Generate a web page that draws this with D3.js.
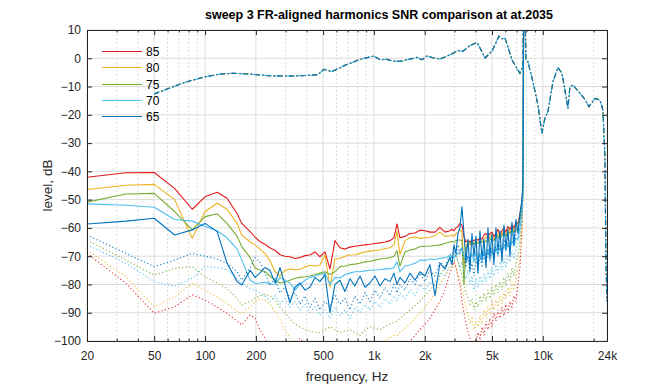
<!DOCTYPE html>
<html><head><meta charset="utf-8">
<script src="https://cdn.jsdelivr.net/npm/d3@7"></script>
<style>body{margin:0;background:#fff}svg{display:block;font-family:"Liberation Sans",Arial,Helvetica,sans-serif}</style>
</head><body><svg id="c" width="672" height="384"></svg>
<script>
const levels = ["85","80","75","70","65"];
const colors = ["#e31a1c","#edb120","#77ac30","#4dbeee","#0072bd"];
const xTicks = [20,50,100,200,500,1000,2000,5000,10000,24000];
const xTickLabels = ["20","50","100","200","500","1k","2k","5k","10k","24k"];
const yTicks = [10,0,-10,-20,-30,-40,-50,-60,-70,-80,-90,-100];
const titleText = "sweep 3 FR-aligned harmonics SNR comparison at at.2035";

// shared frequency grid (Hz) for harmonic (solid) and dotted curves
const freq = [20,34,50,66,84,100,118,135,155,165,
  185,198,211,226,242,260,278,297,318,341,
  365,391,418,448,479,513,549,588,629,674,
  721,772,827,885,947,1014,1086,1162,1245,1314,
  1369,1426,1527,1635,1750,1874,2006,2147,2299,2460,
  2634,2820,
  2898,2978,3060,3145,3232,3322,3414,3508,3606,3705,
  3807,3912,4021,4130,4246,4364,4484,4608,4735,4864,
  4998,5137,5279,5425,5577,5730,5888,6051,6218,6390,
  6566,6749,6934,7126,7323,7526,
  7628,7733];

// solid curves (harmonics), dB
const h85 = [-42.1,-40.5,-40.4,-46,-53.4,-49,-47.4,-49.5,-55,-58.4,
  -61.3,-63.3,-64.8,-65.8,-67,-68,-69.5,-70,-70.2,-70.8,
  -70.5,-69.8,-69.6,-68.5,-70.2,-68.5,-74.5,-64.5,-67,-67.5,
  -66.8,-66.5,-66.2,-66,-65.8,-65.5,-65.3,-65,-64.5,-63.5,
  -58.6,-63.5,-63,-62,-61.8,-60.8,-61,-61.5,-61.5,-59.8,
  -61.5,-61,
  -60.5,-61,-60,-59.5,-58.4,-59,-63,-65,-64.5,-65,
  -64.2,-64.5,-64,-64.3,-63.5,-64,-62.5,-62,-63,-62,
  -61.5,-63,-62,-60.5,-62.5,-61,-60,-61.5,-59.5,-60.5,
  -59,-60,-58,-58.5,-55,-51,
  -45,40];
const h80 = [-46.4,-44.9,-44.6,-49.9,-63.7,-54.2,-51.3,-53.4,-58.5,-62.5,
  -65,-66,-67.5,-69,-71.5,-75.5,-77,-75,-74.5,-74.8,
  -74.6,-73.8,-73.2,-73.5,-73.1,-69.5,-81,-71,-70.8,-70,
  -69.6,-69.5,-69,-68.5,-68.2,-68,-67.8,-67.3,-67,-66,
  -61.3,-69.5,-64.5,-63.5,-63.2,-63.7,-63.5,-63.3,-62.8,-61.5,
  -63,-62.8,
  -62.5,-63,-62,-61.5,-60.5,-61.5,-74,-66,-65.5,-66,
  -65,-65.5,-64.8,-65.2,-64.5,-65,-64,-63.2,-64,-63.2,
  -62.5,-64,-63,-62,-63.5,-62,-61.5,-62.5,-60.5,-61.5,
  -60,-61,-59.5,-59,-56,-52,
  -46,40];
const h75 = [-50.9,-48,-47.8,-54.2,-60.7,-56,-55,-58.4,-63,-66.6,
  -70.5,-74.3,-74.8,-75.5,-77,-78.5,-79.5,-79.2,-78.5,-77.8,
  -77.5,-77.3,-77,-76.5,-76,-75.5,-76.5,-75.5,-73.7,-73.5,
  -73,-72.8,-72.5,-72,-71.8,-71.4,-71,-70.8,-70.5,-70,
  -68,-73.5,-68.5,-67.8,-67.5,-66.6,-66.5,-66.4,-66.2,-66,
  -65.5,-65,
  -64.8,-65,-64.5,-64.3,-64.3,-64.5,-80,-67.5,-66,-65,
  -66,-65.5,-65.8,-65.2,-65.5,-64.8,-65.2,-64.5,-65,-64,
  -63.8,-64.5,-63.5,-63,-64,-62.5,-62,-63,-61.5,-62,
  -61,-61.5,-60.5,-60,-57,-53,
  -47,40];
const h70 = [-51.5,-52,-52.7,-57,-57.6,-59.5,-61,-63.5,-67.5,-71.4,
  -78.5,-79.6,-79.5,-79.2,-79.8,-80,-77.5,-78.5,-79.5,-82,
  -80,-78.5,-77.5,-77,-76.5,-76,-80,-77.5,-77.7,-76.5,
  -76,-75.5,-75.5,-75.2,-75,-74.9,-74.8,-74.5,-74.5,-74,
  -72,-75.5,-73.5,-73.1,-72.5,-71.4,-71.5,-71,-71.2,-70.8,
  -70.5,-70,
  -69.8,-70.5,-69.6,-69,-68.5,-67,-70,-72,-70,-71,
  -69,-72,-68.5,-71.5,-69,-72,-68,-70.5,-67.5,-71,
  -68,-70,-67,-69.5,-66.5,-69,-66,-68,-65.5,-67.5,
  -64.5,-66.5,-63.5,-64,-60,-55,
  -48,40];
const h65 = [-58.6,-57.6,-56.6,-62.5,-60.7,-58.4,-61.3,-72.5,-79,-80.2,
  -75,-77.5,-76,-74,-75,-79.5,-74,-80,-86.5,-81,
  -79.5,-82,-81,-77.5,-79,-76.5,-90,-80,-78.5,-82.5,
  -78,-80.5,-77,-81,-79.5,-77,-80.5,-78,-79,-76,
  -80,-77.5,-79.5,-76,-78.5,-75.5,-77,-73,-84,-72.5,
  -74.5,-70.5,
  -73,-66,-69,-62,-60,-52.5,-62,-72,-64,-75,
  -62,-70,-63,-76,-61,-71,-64,-74,-60,-70,
  -62,-73,-60,-68,-61,-72,-59,-67,-60.5,-70,
  -58,-66,-57,-62,-55,-50,
  -44,40];

// dotted curves, dB
const n85 = [-69,-79.6,-90.2,-87.9,-83.7,-85.5,-88,-90.2,-93,-94.3,
  -90.8,-92,-96,-99,-103,-106,-106,-105,-104,-101,
  -99,-101,-103,-105,-106,-105,-104,-105,-105,-106,
  -107,-108,-108,-107,-106,-105,-105,-104,-104,-103,
  -103,-103,-101,-100,-98,-96,-94,-92,-89,-86,
  -82,-76,
  -74,-72,-74,-77,-80,-86,-90,-94,-97,-99,
  -101,-103,-100,-97,-99,-95,-98,-93,-96,-92,
  -95,-90,-93,-89,-92,-88,-91,-87,-90,-86,
  -88,-84,-86,-80,-74,-62,
  -50,40];
const n80 = [-67.8,-77.3,-87.9,-84.4,-79.6,-82,-84.5,-86.7,-89.5,-90.2,
  -88,-86,-85,-85.5,-87,-89.5,-92.5,-96,-99,-101,
  -103,-103,-104,-103,-102,-101,-101,-102,-103,-102,
  -101,-102,-104,-103,-102,-101,-100,-100,-99,-98,
  -98,-97,-95.5,-94,-92,-90,-88,-86,-83,-80,
  -77,-74,
  -74,-72,-74,-77,-79,-82,-85,-88,-91,-94,
  -92,-96,-93,-95,-91,-94,-89,-92,-88,-90,
  -86,-89,-85,-88,-84,-87,-83,-85,-81,-84,
  -79,-82,-77,-75,-70,-60,
  -48,40];
const n75 = [-64.3,-71.4,-76.7,-74.3,-73.7,-77.3,-79.5,-81.4,-85,-87.3,
  -86,-84.9,-84,-83.5,-84,-85.5,-88,-90,-92,-94,
  -95,-96,-96.5,-97,-97,-96,-95,-96,-97,-96.5,
  -96,-97,-98,-96,-95,-95.5,-96,-95,-94,-93.5,
  -93,-92,-90.5,-89,-87.5,-86,-84,-82,-80,-77,
  -74,-71,
  -70,-69,-70,-72,-74,-77,-80,-83,-85,-87,
  -85,-89,-86,-88,-84,-87,-83,-86,-82,-85,
  -81,-84,-80,-83,-79,-82,-78,-80,-76,-79,
  -74,-77,-72,-70,-65,-57,
  -47,40];
const n70 = [-66,-72.5,-79,-80.6,-77.8,-73.7,-74,-74.9,-78,-79.6,
  -81.4,-82,-83,-84,-86,-84,-87,-85,-88,-86,
  -89,-87,-90,-88,-91,-89,-92,-88,-91,-89,
  -92,-88,-90,-87,-89,-86,-88,-85,-87,-84,
  -86,-83,-85,-82,-84,-80,-82,-79,-80,-76,
  -77,-73,
  -71,-72,-70,-72,-74,-72,-76,-78,-75,-80,
  -77,-82,-78,-81,-77,-80,-76,-79,-75,-78,
  -74,-77,-73,-76,-72,-75,-71,-74,-70,-72,
  -68,-71,-67,-66,-62,-55,
  -46,40];
const n65 = [-62.5,-69,-73.7,-71.4,-69,-70,-71,-72.5,-75.5,-78.5,
  -74,-70.5,-72,-76,-80,-78,-83,-81,-85,-83,
  -87,-84,-88,-85,-89,-86,-88,-84,-87,-85,
  -89,-84,-87,-83,-86,-82,-85,-81,-84,-80,
  -83,-80,-82,-78,-80,-76,-79,-75,-77,-72,
  -74,-69,
  -71,-67,-70,-66,-69,-67,-71,-74,-70,-76,
  -72,-77,-71,-75,-70,-74,-69,-73,-68,-72,
  -67,-71,-66,-70,-65,-69,-64,-68,-63,-66,
  -62,-65,-61,-60,-57,-52,
  -45,40];

// fundamental (FR-aligned) curve, dash-dot
const frFreq = [50,62,78,101,123,146,185,242,318,396,
  466,506,564,674,827,1000,1086,1195,1297,1426,
  1635,1798,1925,2061,2237,2460,2820,3145,3368,3705,
  4075,4304,4545,4998,5279,5500,5730,5969,6218,6566,
  6934,7323,7628,7733,7946,8166,8742,9360,9885,10296,
  10726,11484,12294,12985,13526,14093,14479,15083,16596,17762,
  18760,20358,21800,22700,23330,23650,24000];
const fr = [-12.6,-10.5,-8.3,-6.5,-5.6,-5.3,-5.6,-6.2,-6.3,-6.1,
  -5.8,-3.9,-4.7,-2.5,-0.4,0.8,-0.5,-0.4,-1.0,-1.1,
  -0.3,0.3,-0.5,0.8,0.2,-0.3,1.2,2.7,2.5,4.5,
  5.6,3,0.1,2.5,5.5,7.8,6.9,7.2,4,-0.5,
  -3,-5.3,-3,40,-0.6,-1.2,-8.3,-16.5,-26.5,-21.2,
  -18.9,-8.3,-3.3,-5.3,-11.2,-17.7,-10,-9.5,-12.4,-14.5,
  -17.1,-14.2,-14.8,-18.3,-35,-70.6,-86];

const harm = [h85,h80,h75,h70,h65];
const dots = [n85,n80,n75,n70,n65];

const L=87,R=607,T=30,B=341;
const svg = d3.select("#c");
const x = d3.scaleLog().domain([20,24000]).range([L,R]);
const y = d3.scaleLinear().domain([-100,10]).range([B,T]);

const minorTicks = [];
[10,100,1000,10000].forEach(d=>{for(let k=1;k<10;k++){const v=d*k; if(v>20&&v<24000&&!xTicks.includes(v)) minorTicks.push(v);}});

// grid
const g = svg.append("g");
g.selectAll(".mg").data(minorTicks).join("line")
  .attr("x1",d=>x(d)).attr("x2",d=>x(d)).attr("y1",T).attr("y2",B)
  .attr("stroke","#d6d6d6").attr("stroke-width",0.8).attr("stroke-dasharray","2,2");
g.selectAll(".xg").data(xTicks).join("line")
  .attr("x1",d=>x(d)).attr("x2",d=>x(d)).attr("y1",T).attr("y2",B)
  .attr("stroke","#dcdcdc").attr("stroke-width",1);
g.selectAll(".yg").data(yTicks).join("line")
  .attr("x1",L).attr("x2",R).attr("y1",d=>y(d)).attr("y2",d=>y(d))
  .attr("stroke","#dcdcdc").attr("stroke-width",1);

svg.append("defs").append("clipPath").attr("id","clip").append("rect")
  .attr("x",L).attr("y",T).attr("width",R-L).attr("height",B-T);
const plot = svg.append("g").attr("clip-path","url(#clip)");
const line = d3.line().x(d=>x(d[0])).y(d=>y(d[1]));

levels.forEach((lv,i)=>{
  plot.append("path").datum(d3.zip(frFreq,fr)).attr("d",line)
    .attr("fill","none").attr("stroke",colors[i]).attr("stroke-width",1.1)
    .attr("stroke-dasharray","5,2.5,1.5,2.5").attr("stroke-dashoffset",i===3?3:0);
  plot.append("path").datum(d3.zip(freq,harm[i])).attr("d",line)
    .attr("fill","none").attr("stroke",colors[i]).attr("stroke-width",1.1)
    .attr("stroke-linejoin","round");
  plot.append("path").datum(d3.zip(freq,dots[i])).attr("d",line)
    .attr("fill","none").attr("stroke",colors[i]).attr("stroke-width",1.1)
    .attr("stroke-dasharray","1.2,2.3").attr("opacity",0.9);
});

// axes
const ax = "#262626";
const xb = svg.append("g").attr("transform",`translate(0,${B})`)
  .call(d3.axisBottom(x).tickValues(xTicks).tickFormat((d,i)=>xTickLabels[i]).tickSize(-5).tickSizeOuter(0).tickPadding(10));
const xbm = svg.append("g").attr("transform",`translate(0,${B})`)
  .call(d3.axisBottom(x).tickValues(minorTicks).tickFormat("").tickSize(-2.5).tickSizeOuter(0));
const xt = svg.append("g").attr("transform",`translate(0,${T})`)
  .call(d3.axisTop(x).tickValues(xTicks).tickFormat("").tickSize(-5).tickSizeOuter(0));
const xtm = svg.append("g").attr("transform",`translate(0,${T})`)
  .call(d3.axisTop(x).tickValues(minorTicks).tickFormat("").tickSize(-2.5).tickSizeOuter(0));
const yl = svg.append("g").attr("transform",`translate(${L},0)`)
  .call(d3.axisLeft(y).tickValues(yTicks).tickSize(-5).tickSizeOuter(0).tickPadding(6));
const yr = svg.append("g").attr("transform",`translate(${R},0)`)
  .call(d3.axisRight(y).tickValues(yTicks).tickFormat("").tickSize(-5).tickSizeOuter(0));
[xb,xbm,xt,xtm,yl,yr].forEach(a=>{
  a.selectAll("path,line").attr("stroke",ax);
  a.selectAll("text").attr("fill",ax).style("font-size","12px").style("font-family","'Liberation Sans',Arial,sans-serif");
});

// labels
svg.append("text").attr("x",379).attr("y",19).attr("text-anchor","middle")
  .style("font-weight","bold").style("font-size","12.5px").attr("fill","#000").text(titleText);
svg.append("text").attr("x",(L+R)/2).attr("y",381).attr("text-anchor","middle")
  .style("font-size","13.5px").attr("fill",ax).text("frequency, Hz");
svg.append("text").attr("transform",`translate(52,${(T+B)/2}) rotate(-90)`).attr("text-anchor","middle")
  .style("font-size","13.5px").attr("fill",ax).text("level, dB");

// legend
const lg = svg.append("g");
const ly = [51.5,67.5,84.5,100.5,116.5];
levels.forEach((lv,i)=>{
  lg.append("line").attr("x1",102).attr("x2",142).attr("y1",ly[i]).attr("y2",ly[i])
    .attr("stroke",colors[i]).attr("stroke-width",1.1);
  lg.append("text").attr("x",146).attr("y",ly[i]).attr("dy","0.35em")
    .style("font-size","12px").attr("fill","#000").text(lv);
});
</script></body></html>
